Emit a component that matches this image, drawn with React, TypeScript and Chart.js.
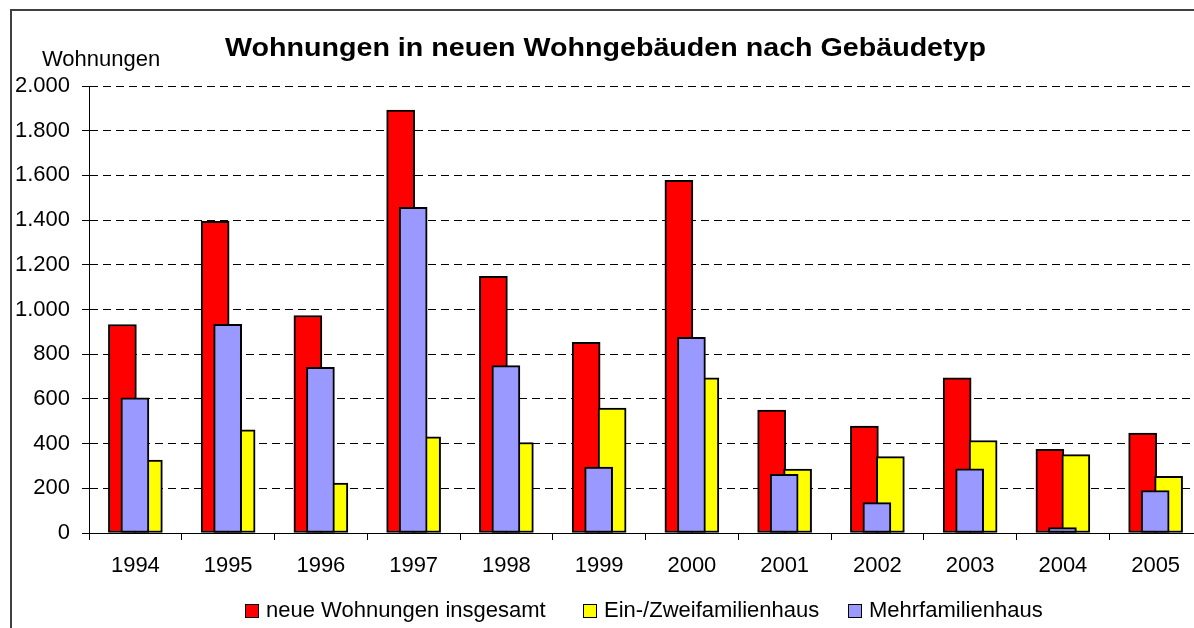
import React, { useEffect, useRef } from 'react';
import { Chart, registerables } from 'chart.js';

Chart.register(...registerables);

const YEARS = ['1994', '1995', '1996', '1997', '1998', '1999', '2000', '2001', '2002', '2003', '2004', '2005'];
const TOTAL = [933, 1395, 973, 1892, 1148, 853, 1578, 550, 478, 694, 374, 447];
const EIN_ZWEI = [326, 462, 223, 430, 405, 559, 694, 286, 342, 414, 351, 254];
const MEHR = [605, 934, 741, 1457, 749, 295, 876, 263, 136, 287, 24, 190];
const SERIES_NAMES = ['neue Wohnungen insgesamt', 'Ein-/Zweifamilienhaus', 'Mehrfamilienhaus'];
const SERIES_COLORS = ['#FF0000', '#FFFF00', '#9999FF'];
const TITLE = 'Wohnungen in neuen Wohngebäuden nach Gebäudetyp';
const Y_LABEL = 'Wohnungen';
const Y_MIN = 0;
const Y_MAX = 2000;
const Y_STEP = 200;

const FONT = "'Liberation Sans', Arial, sans-serif";
const CANVAS_W = 1214;
const CANVAS_H = 628;
const LEGEND_BOX_X = [245, 583, 848];

const fmt = (v: number) => String(v).replace(/\B(?=(\d{3})+(?!\d))/g, '.');

const decorPlugin = {
  id: 'decor',
  afterDraw(chart: any) {
    const ctx = chart.ctx as CanvasRenderingContext2D;
    ctx.save();
    // outer frame
    ctx.fillStyle = '#404040';
    ctx.fillRect(10, 9, 2, CANVAS_H);
    ctx.fillRect(10, 9, CANVAS_W, 2);

    // title
    ctx.fillStyle = '#000';
    ctx.font = `bold 26px ${FONT}`;
    ctx.textBaseline = 'alphabetic';
    ctx.textAlign = 'left';
    const tw = ctx.measureText(TITLE).width;
    ctx.save();
    ctx.translate(225, 56);
    ctx.scale(761 / tw, 1);
    ctx.fillText(TITLE, 0, 0);
    ctx.restore();

    // y axis label
    ctx.font = `22px ${FONT}`;
    ctx.fillText(Y_LABEL, 42, 66);

    // legend
    for (let i = 0; i < SERIES_NAMES.length; i++) {
      const bx = LEGEND_BOX_X[i];
      ctx.fillStyle = '#000';
      ctx.fillRect(bx, 604, 14, 14);
      ctx.fillStyle = SERIES_COLORS[i];
      ctx.fillRect(bx + 1, 605, 12, 12);
      ctx.fillStyle = '#000';
      ctx.fillText(SERIES_NAMES[i], bx + 21, 617);
    }
    ctx.restore();
  },
};

export default function App() {
  const ref = useRef<HTMLCanvasElement | null>(null);

  useEffect(() => {
    if (!ref.current) return;
    Chart.defaults.font.family = FONT;
    Chart.defaults.font.size = 22;
    Chart.defaults.color = '#000';

    const common = {
      type: 'bar' as const,
      xAxisID: 'xb',
      yAxisID: 'y',
      barThickness: 28,
      grouped: false,
      borderColor: '#000',
      borderWidth: 2,
      borderSkipped: false,
    };

    const chart = new Chart(ref.current, {
      type: 'bar',
      data: {
        labels: YEARS,
        datasets: [
          {
            ...common,
            label: SERIES_NAMES[0],
            backgroundColor: SERIES_COLORS[0],
            data: TOTAL.map((v, i) => ({ x: i - 0.14, y: v })),
            order: 2,
          },
          {
            ...common,
            label: SERIES_NAMES[1],
            backgroundColor: SERIES_COLORS[1],
            data: EIN_ZWEI.map((v, i) => ({ x: i + 0.14, y: v })),
            order: 1,
          },
          {
            ...common,
            label: SERIES_NAMES[2],
            backgroundColor: SERIES_COLORS[2],
            data: MEHR.map((v, i) => ({ x: i - 0.005, y: v })),
            order: 0,
          },
        ] as any,
      },
      options: {
        animation: false,
        responsive: false,
        devicePixelRatio: 1,
        layout: { padding: { left: 0, right: CANVAS_W - 1202, top: 86, bottom: 36 } },
        plugins: {
          legend: { display: false },
          title: { display: false },
          tooltip: { enabled: false },
        },
        scales: {
          x: {
            type: 'category',
            offset: true,
            grid: {
              display: true,
              drawOnChartArea: false,
              drawTicks: true,
              tickLength: 7,
              color: '#000',
              tickColor: '#000',
              offset: true,
            },
            border: { display: true, color: '#000', width: 1 },
            ticks: { color: '#000', padding: 13, font: { size: 22 }, maxRotation: 0, autoSkip: false },
            afterFit: (s: any) => { s.height = 59; },
          },
          xb: {
            type: 'linear',
            display: false,
            min: -0.5,
            max: 11.5,
            offset: false,
            grid: { offset: false },
          },
          y: {
            type: 'linear',
            min: Y_MIN,
            max: Y_MAX,
            ticks: {
              stepSize: Y_STEP,
              color: '#000',
              padding: 12,
              font: { size: 22 },
              callback: (v: any) => fmt(Number(v)),
            },
            grid: {
              color: '#000',
              lineWidth: 1,
              drawTicks: true,
              tickLength: 7,
              tickColor: '#000',
              tickBorderDash: [],
            },
            border: { display: true, color: '#000', width: 1, dash: [8, 5] },
            afterFit: (s: any) => { s.width = 89; },
          },
        },
      } as any,
      plugins: [decorPlugin],
    });
    return () => chart.destroy();
  }, []);

  return (
    <div style={{ position: 'fixed', left: 0, top: 0, width: 1194, height: 628, overflow: 'hidden', background: '#fff' }}>
      <canvas ref={ref} width={CANVAS_W} height={CANVAS_H} style={{ display: 'block', width: CANVAS_W, height: CANVAS_H }} />
    </div>
  );
}
